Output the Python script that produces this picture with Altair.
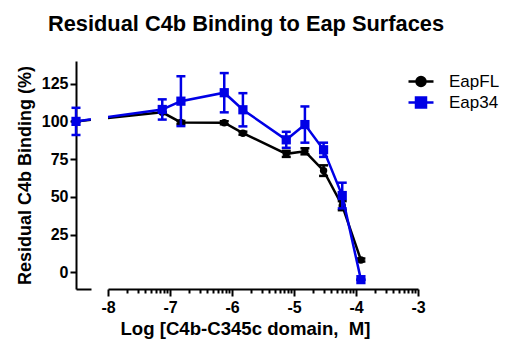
import math
import altair as alt
import pandas as pd

# ---------------- data ----------------
series_names = ["EapFL", "Eap34"]
series_colors = ["#000000", "#0000e6"]
# log10 of competitor concentration (M); the no-competitor control sits on the axis-break stub
log_conc = [-7.125, -6.824, -6.125, -5.824, -5.125, -4.824, -4.523, -4.222, -3.921]
ctrl_pos = -8.5
eapfl_mean = [100, 106, 99.3, 99.1, 92.2, 78.5, 80.2, 67.4, 44.2, 8.2]
eapfl_err = [0, 0, 1, 1, 1, 2, 2, 3.5, 3, 1]
eap34_mean = [100, 107.9, 113.4, 119, 107.7, 87.8, 97.9, 81.2, 50.9, -4.8]
eap34_err = [9, 6.7, 16.5, 13, 11, 5.3, 12, 4.7, 8.5, 0]

y_ticks = [0, 25, 50, 75, 100, 125]
x_major = [-8, -7, -6, -5, -4, -3]

FONT = "Liberation Sans"

xs = [ctrl_pos] + log_conc
rows = []
for name, means, errs in [("EapFL", eapfl_mean, eapfl_err), ("Eap34", eap34_mean, eap34_err)]:
    for x, m, e in zip(xs, means, errs):
        rows.append({"series": name, "x": x, "y": m, "lo": m - e, "hi": m + e})
df = pd.DataFrame(rows)

# tick positions of the log axis (major decades + minor 2..9)
x_tick_vals = []
for d in x_major[:-1]:
    for k in range(1, 10):
        x_tick_vals.append(d + math.log10(k))
x_tick_vals.append(x_major[-1])

Y_DOMAIN = [-11, 140]
STUB = [-8.5, -8.258]
MAIN = [-8, -3]
H = 228


def series_layers(name, color, shape, size, keep):
    base = alt.Chart(df).transform_filter(alt.datum.series == name)
    pts = base.transform_filter(keep)
    line = base.mark_line(color=color, strokeWidth=2.5, clip=True).encode(
        x=alt.X("x:Q"), y=alt.Y("y:Q"), order="x:Q")
    rule = pts.mark_rule(color=color, strokeWidth=2.5).encode(
        x="x:Q", y="lo:Q", y2="hi:Q")
    cap_lo = pts.mark_tick(color=color, thickness=2.5, size=9, orient="horizontal", opacity=1).encode(
        x="x:Q", y="lo:Q")
    cap_hi = pts.mark_tick(color=color, thickness=2.5, size=9, orient="horizontal", opacity=1).encode(
        x="x:Q", y="hi:Q")
    point = pts.mark_point(color=color, filled=True, opacity=1, shape=shape, size=size).encode(
        x="x:Q", y="y:Q")
    return [line, rule, cap_lo, cap_hi, point]


def panel_layers(keep):
    layers = []
    layers += series_layers("EapFL", series_colors[0], "circle", 55, keep)
    layers += series_layers("Eap34", series_colors[1], "square", 85, keep)
    return layers


y_scale = alt.Scale(domain=Y_DOMAIN, nice=False, zero=False)

# left stub (control)
left = alt.layer(*panel_layers("datum.x < -8")).encode(
    x=alt.X("x:Q", scale=alt.Scale(domain=STUB, nice=False, zero=False),
            axis=alt.Axis(title=None, labels=False, ticks=False, grid=False,
                          domainWidth=2, domainColor="black")),
    y=alt.Y("y:Q", scale=y_scale,
            axis=alt.Axis(values=y_ticks, title="Residual C4b Binding (%)", grid=False,
                          domainWidth=2, domainColor="black", tickWidth=2, tickSize=6,
                          tickColor="black", labelFont=FONT, labelFontSize=16,
                          labelFontWeight="bold", labelColor="black", labelPadding=2,
                          titleFont=FONT, titleFontSize=18, titleFontWeight="bold",
                          titleColor="black", titlePadding=7)),
).properties(width=15, height=H)

# legend layer (no marks, only legend)
line_circle = "M-1.25,0L1.25,0M0.45,0A0.45,0.45,0,1,1,-0.45,0A0.45,0.45,0,1,1,0.45,0Z"
line_square = "M-1.25,0L1.25,0M-0.5,-0.5L0.5,-0.5L0.5,0.5L-0.5,0.5Z"
leg = alt.Legend(title=None, orient="none", legendX=333.5, legendY=9, padding=0,
                 labelFont=FONT, labelFontSize=17, labelColor="black",
                 symbolSize=400, symbolStrokeWidth=2.5, labelOffset=16.5,
                 rowPadding=0, symbolOpacity=1)
legend_layer = alt.Chart(df).transform_filter("false").mark_point(filled=True, opacity=1).encode(
    x="x:Q", y="y:Q",
    fill=alt.Fill("series:N", scale=alt.Scale(domain=series_names, range=series_colors), legend=leg),
    stroke=alt.Stroke("series:N", scale=alt.Scale(domain=series_names, range=series_colors), legend=leg),
    shape=alt.Shape("series:N", scale=alt.Scale(domain=series_names, range=[line_circle, line_square]), legend=leg),
)

right = alt.layer(*panel_layers("datum.x >= -8"), legend_layer).encode(
    x=alt.X("x:Q", scale=alt.Scale(domain=MAIN, nice=False, zero=False),
            axis=alt.Axis(values=x_tick_vals, title="Log [C4b-C345c domain,\u00a0 M]", grid=False,
                          labelExpr="abs(datum.value - round(datum.value)) < 0.001 ? '' + round(datum.value) : ''",
                          tickSize={"condition": {"test": "abs(datum.value - round(datum.value)) < 0.001", "value": 7}, "value": 4},
                          tickWidth=2, tickColor="black", domainWidth=2, domainColor="black",
                          labelOverlap=False, labelFlush=False, labelFont=FONT, labelFontSize=16,
                          labelFontWeight="bold", labelColor="black", labelPadding=3,
                          titleFont=FONT, titleFontSize=18.6, titleFontWeight="bold",
                          titleColor="black", titlePadding=4, titleX=137)),
    y=alt.Y("y:Q", scale=y_scale, axis=None),
).properties(width=310, height=H)

chart = alt.hconcat(left, right, spacing=9).properties(
    title=alt.TitleParams("Residual C4b Binding to Eap Surfaces", font=FONT, fontSize=21.8,
                          fontWeight="bold", color="black", anchor="start", frame="group",
                          dx=-28, offset=25),
    background="white",
    padding={"left": 8, "top": 6, "right": 5, "bottom": 5},
).configure_view(stroke=None)

chart.save("out.html", embed_options={"renderer": "svg", "actions": False})
